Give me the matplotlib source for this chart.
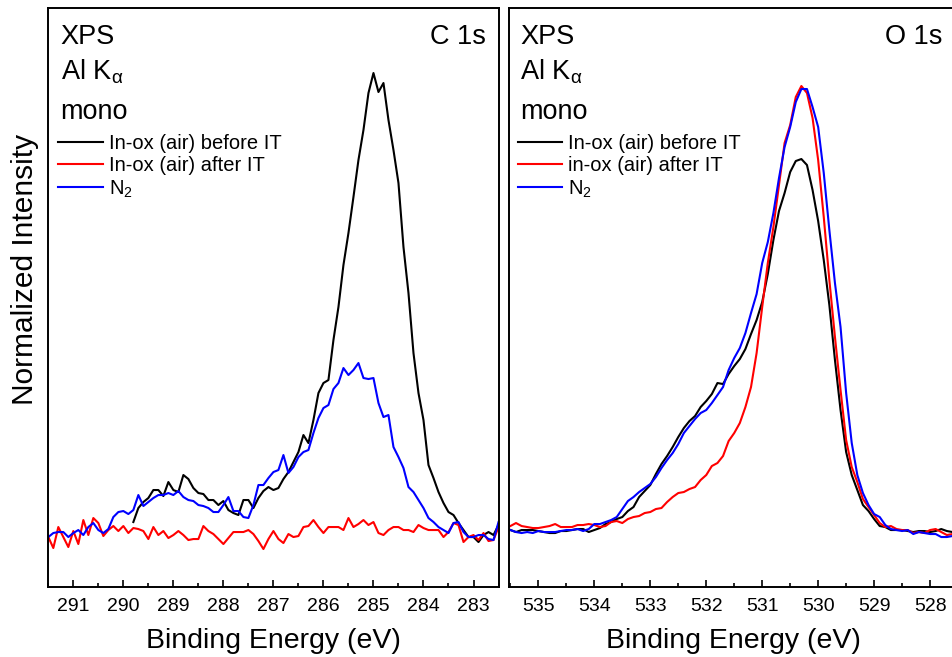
import numpy as np
import matplotlib.pyplot as plt
from matplotlib.ticker import MultipleLocator

plt.rcParams['font.family'] = ['Liberation Sans', 'DejaVu Sans']
plt.rcParams['mathtext.fontset'] = 'custom'
plt.rcParams['mathtext.rm'] = 'Liberation Sans'
plt.rcParams['mathtext.it'] = 'Liberation Sans:italic'

# ---- C 1s (counts, background-subtracted, arb. units) ----
e_c1s = np.round(np.arange(291.5, 282.45, -0.1), 1)
e_c1s_before = e_c1s[17:]   # before-IT scan starts at 289.8 eV

c1s_before = [13, 27, 33, 37, 45, 45, 39, 53, 45, 43,
              60, 56, 47, 42, 41, 35, 35, 30, 34, 25,
              22, 20, 35, 35, 27, 37, 44, 48, 45, 47,
              56, 63, 73, 83, 100, 92, 115, 142, 152, 155,
              195, 228, 270, 302, 338, 375, 405, 442, 462, 443,
              452, 415, 385, 352, 288, 242, 182, 142, 115, 70,
              57, 43, 32, 23, 20, 12, 5, -2, -2, -7,
              0, 3, 0, 10]
c1s_after = [-2, -13, 8, -2, -12, 4, -9, 15, 0, 17,
             12, -1, 5, 9, 4, 9, 2, 7, 6, 4,
             -4, 8, 0, 4, -3, 0, 4, 0, -5, -4,
             -4, 9, 4, 1, -4, -9, -3, 3, 3, 3,
             5, 1, -6, -14, -4, 4, -4, -8, 1, -2,
             -1, 8, 9, 15, 8, 2, 8, 8, 8, 5,
             17, 8, 11, 15, 10, 13, 2, 0, 5, 8,
             8, 5, 5, 3, 10, 7, 5, 5, 5, -2,
             3, 12, 10, -7, -2, 0, -5, 2, -6, -5,
             8]
c1s_n2 = [-2, 2, 3, 3, -2, 2, 5, 0, 8, 12,
          5, 2, 6, 18, 23, 24, 21, 25, 40, 29,
          33, 37, 40, 40, 42, 40, 44, 38, 35, 34,
          30, 29, 27, 23, 23, 30, 38, 24, 24, 18,
          17, 30, 50, 50, 57, 63, 65, 80, 62, 68,
          78, 83, 85, 102, 117, 127, 130, 146, 152, 167,
          160, 165, 172, 157, 156, 157, 132, 118, 120, 88,
          78, 67, 48, 43, 35, 27, 17, 13, 8, 5,
          2, 12, 13, 3, -2, -2, 0, 0, -4, -5,
          13]

# ---- O 1s ----
e_o1s = np.round(np.arange(535.5, 527.55, -0.1), 1)

o1s_before = [5, 3, 5, 5, 5, 4, 3, 2, 2, 4,
              4, 5, 6, 6, 3, 5, 7, 11, 13, 16,
              18, 24, 28, 38, 44, 50, 61, 71, 79, 88,
              98, 107, 114, 119, 128, 134, 141, 152, 151, 161,
              169, 176, 186, 201, 215, 233, 261, 295, 324, 342,
              363, 374, 376, 370, 345, 314, 275, 230, 175, 125,
              83, 60, 45, 30, 24, 16, 9, 8, 5, 5,
              5, 4, 3, 4, 4, 3, 4, 6, 4, 3]
o1s_after = [9, 12, 9, 8, 7, 7, 8, 9, 11, 8,
             8, 8, 10, 10, 11, 10, 8, 9, 13, 14,
             12, 16, 18, 19, 22, 23, 26, 27, 33, 38,
             42, 43, 46, 48, 55, 60, 69, 72, 79, 94,
             102, 112, 128, 148, 182, 228, 272, 308, 350, 392,
             410, 438, 449, 442, 417, 375, 318, 255, 198, 145,
             95, 68, 53, 36, 28, 20, 12, 8, 9, 6,
             5, 5, 2, 3, 2, 5, 6, 3, 0, 1]
o1s_n2 = [5, 3, 2, 3, 2, 4, 3, 3, 3, 4,
          5, 5, 6, 4, 6, 11, 11, 13, 15, 18,
          26, 34, 38, 43, 47, 51, 58, 67, 75, 82,
          91, 102, 109, 116, 122, 125, 132, 140, 148, 165,
          177, 187, 202, 222, 241, 272, 293, 322, 357, 388,
          408, 433, 446, 446, 428, 408, 362, 305, 252, 208,
          142, 92, 60, 42, 30, 21, 18, 10, 6, 5,
          4, 5, 1, 3, 2, 1, 1, -2, -2, -1]

norm = max(c1s_before)

def nrm(v):
    return np.array(v) / norm

fig = plt.figure(figsize=(9.53, 6.57), dpi=100)
ax1 = fig.add_axes([0.0507, 0.1065, 0.4724, 0.8813])
ax2 = fig.add_axes([0.5344, 0.1065, 0.4709, 0.8813])

lw = 1.5
ax1.plot(e_c1s_before, nrm(c1s_before), color='black', lw=lw, label='In-ox (air) before IT')
ax1.plot(e_c1s, nrm(c1s_after), color='red', lw=lw, label='In-ox (air) after IT')
ax1.plot(e_c1s, nrm(c1s_n2), color='blue', lw=lw, label='N$_2$')
ax1.set_xlim(291.5, 282.5)

ax2.plot(e_o1s, nrm(o1s_before), color='black', lw=lw, label='In-ox (air) before IT')
ax2.plot(e_o1s, nrm(o1s_after), color='red', lw=lw, label='in-ox (air) after IT')
ax2.plot(e_o1s, nrm(o1s_n2), color='blue', lw=lw, label='N$_2$')
ax2.set_xlim(535.52, 527.5)

for ax, x0, core, xr in ((ax1, 0.0275, 'C 1s', 0.972), (ax2, 0.024, 'O 1s', 0.966)):
    ax.set_ylim(-52 / norm, 527 / norm)
    ax.set_yticks([])
    ax.xaxis.set_major_locator(MultipleLocator(1))
    ax.xaxis.set_minor_locator(MultipleLocator(0.5))
    ax.tick_params(axis='x', which='major', direction='in', length=5, width=1.2,
                   labelsize=14, pad=8)
    ax.tick_params(axis='x', which='minor', direction='in', length=3, width=1.2)
    for s in ax.spines.values():
        s.set_linewidth(1.4)
    ax.set_xlabel('Binding Energy (eV)', fontsize=20.5, labelpad=9)

    ax.text(x0, 0.938, 'XPS', transform=ax.transAxes, fontsize=19.5, va='baseline')
    ax.text(x0, 0.876, r'Al K$_\mathrm{\alpha}$', transform=ax.transAxes, fontsize=19.5, va='baseline')
    ax.text(x0, 0.808, 'mono', transform=ax.transAxes, fontsize=19.5, va='baseline')
    ax.text(xr, 0.938, core, transform=ax.transAxes, fontsize=19.5, va='baseline', ha='right')

    ax.legend(loc='upper left', bbox_to_anchor=(x0 - 0.005, 0.782), frameon=False,
              fontsize=14.5, handlelength=2.2, handletextpad=0.3, labelspacing=0.15,
              borderpad=0, borderaxespad=0)

fig.text(0.026, 0.59, 'Normalized Intensity', rotation=90, fontsize=21.5,
         ha='center', va='center')

fig.savefig('out.png', dpi=100)
